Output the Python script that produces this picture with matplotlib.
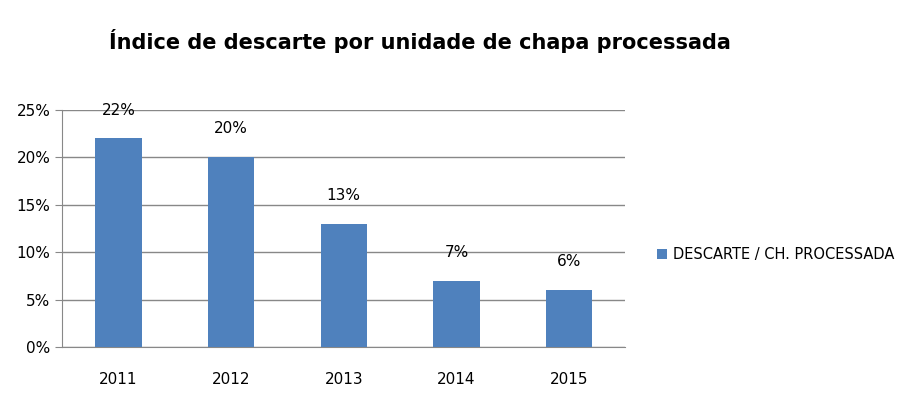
import matplotlib
matplotlib.use("Agg")
import matplotlib.pyplot as plt

years = ["2011", "2012", "2013", "2014", "2015"]
values = [22, 20, 13, 7, 6]
yticks = [0, 5, 10, 15, 20, 25]
series_name = "DESCARTE / CH. PROCESSADA"

fig = plt.figure(figsize=(9.13, 4.18), dpi=100)
ax = fig.add_axes([0.068, 0.170, 0.617, 0.567])
x = range(len(years))
ax.bar(x, values, width=0.41, color="#4F81BD", label=series_name, zorder=3)
for i, v in zip(x, values):
    ax.text(i, v + 2.2, f"{v}%", ha="center", va="bottom", fontsize=11)
ax.set_xlim(-0.5, len(years) - 0.5)
ax.set_ylim(0, 25)
ax.set_yticks(yticks)
ax.set_yticklabels([f"{t}%" for t in yticks], fontsize=11)
ax.set_xticks(list(x))
ax.set_xticklabels(years, fontsize=11)
ax.tick_params(axis="x", length=0, pad=18)
ax.tick_params(axis="y", length=5, color="#888888")
ax.grid(axis="y", color="#888888", linewidth=1, zorder=0)
for s in ["top", "right"]:
    ax.spines[s].set_visible(False)
for s in ["left", "bottom"]:
    ax.spines[s].set_color("#888888")
fig.suptitle("Índice de descarte por unidade de chapa processada", x=0.46, y=0.93,
             fontsize=15, fontweight="bold")
fig.legend(loc="center left", bbox_to_anchor=(0.705, 0.39), frameon=False,
           prop={"size": 10.5}, handlelength=0.7, handletextpad=0.4)
fig.savefig("out.png", dpi=100)
